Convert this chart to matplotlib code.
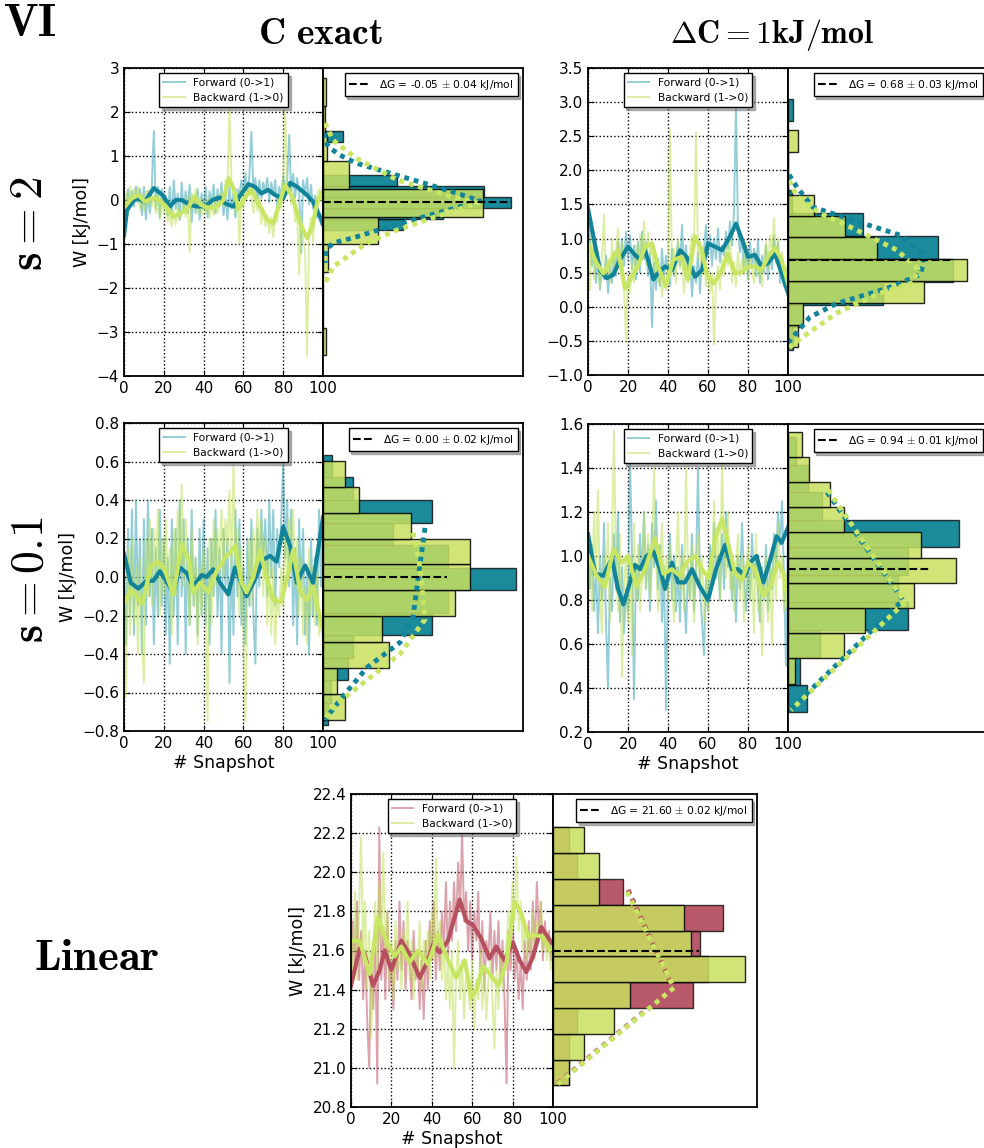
import numpy as np
import matplotlib
matplotlib.use('Agg')
import matplotlib.pyplot as plt

plt.rcParams['mathtext.fontset'] = 'cm'
plt.rcParams['font.family'] = 'DejaVu Sans'

snapshots = list(range(101))
xTicks = [0, 20, 40, 60, 80, 100]

#colours
tealRaw = '#2b9db0'
tealSmooth = '#12849a'
tealHist = '#1b8a9a'
redRaw = '#b8475a'
redSmooth = '#b5505e'
redHist = '#b85a6a'
greenRaw = '#bfe05a'
greenSmooth = '#c8e663'
greenHist = '#c8e060'

# ---------------- panel A : C exact, s = 2 ----------------
A_fwd_raw = [-0.95, -0.30, 0.25, -0.10, 0.20, -0.15, 0.30, -0.05, 0.25, -0.35,
             0.30, -0.45, 0.20, -0.30, 0.35, 1.57, -0.20, 0.30, -0.40, 0.25,
             -0.15, 0.10, -0.35, 0.30, -0.40, 0.45, -0.20, 0.15, -0.45, 0.40,
             -0.25, 0.20, -0.30, 0.35, -0.50, 0.10, -0.30, 0.25, -0.45, 0.15,
             -0.20, 0.30, -0.40, 0.20, -0.10, 0.35, -0.30, 0.25, -0.15, 0.40,
             -0.35, 0.10, -0.45, 0.30, -0.20, 0.15, -0.40, 0.25, 0.10, 0.45,
             0.20, 0.60, 0.15, 0.55, 1.55, 0.20, 0.50, -0.10, 0.45, 0.05,
             0.40, 0.15, 0.50, -0.05, 0.40, 0.10, 0.45, -0.20, 0.30, 0.05,
             0.55, 0.20, 0.45, 1.48, 0.15, 0.60, 0.05, 0.50, 0.20, -1.20,
             0.45, 0.10, 0.50, -0.10, 0.35, -0.20, 0.10, -0.40, -0.30, -0.55, -0.60]
A_bwd_raw = [-0.20, 0.15, -0.35, 0.30, -0.10, 0.25, 0.05, 0.30, -0.20, 0.15,
             -0.25, 0.20, -0.10, 0.25, -0.15, 0.10, -0.30, 0.20, -0.45, 0.05,
             -0.30, -0.10, -0.50, -0.20, -0.60, -0.25, -0.55, -0.15, -0.45, -0.30,
             -0.10, -0.40, 0.10, -1.18, 0.15, -0.20, 0.25, -0.30, 0.05, -0.35,
             -0.10, -0.30, 0.05, -0.40, -0.05, -0.35, 0.10, -0.30, -0.05, 0.20,
             -0.15, 0.45, 0.30, 2.10, 0.40, 0.20, -0.30, 0.15, -1.00, 0.25,
             -0.20, 0.35, 0.05, 0.40, 0.10, -0.30, 0.20, -0.25, 0.05, -0.55,
             -0.20, -0.60, -0.35, -0.75, -0.40, -0.85, -0.30, -0.50, 0.10, -0.20,
             0.45, 2.05, 0.20, 0.40, -0.10, 0.15, -0.50, -0.30, -1.70, -0.60,
             -0.90, -1.20, -3.55, -0.70, -0.40, -0.95, -0.20, 0.10, 0.25, 0.00, 0.30]
A_fwd_smooth_x = [0, 1.5, 5, 7, 10.5, 15, 19.5, 23, 26, 29, 33, 37, 41, 44.5, 48, 51, 55, 58, 62.5, 65.8,
                  69, 72.5, 76, 80, 83.5, 87, 92, 95, 98.5, 100]
A_fwd_smooth_y = [-0.8, -0.23, 0.0, 0.03, -0.04, 0.27, 0.11, -0.15, 0.0, 0.0, -0.11, -0.15, -0.14, 0.0, 0.06,
                  -0.08, -0.15, 0.08, 0.36, 0.30, 0.15, 0.23, 0.11, 0.04, 0.39, 0.30, 0.11, -0.04, -0.38, -0.55]
A_bwd_smooth_x = [0, 4, 7.3, 10.5, 14, 17, 21, 25, 28.5, 32, 35.5, 38.6, 42, 46, 50, 52.6, 55, 57.5, 61, 64,
                  67.6, 72, 75, 78.6, 81, 84.5, 88.6, 92, 94.6, 97, 100]
A_bwd_smooth_y = [-0.17, 0.04, 0.11, -0.04, 0.04, 0.02, -0.14, -0.38, -0.30, -0.19, 0.08, -0.11, -0.17, -0.17,
                  0.0, 0.49, 0.27, -0.20, 0.06, 0.23, -0.08, -0.45, -0.53, 0.0, 0.34, 0.08, -0.53, -0.87, -0.60,
                  -0.08, 0.23]
A_fwd_edges = [-0.68, -0.43, -0.18, 0.07, 0.32, 0.57, 0.82, 1.07, 1.32, 1.57]
A_fwd_dens = [0.80, 1.20, 1.88, 1.61, 0.74, 0, 0, 0, 0.20]
A_bwd_edges = [-3.53, -2.90, -2.27, -1.64, -1.01, -0.38, 0.25, 0.88, 1.51, 2.14, 2.77]
A_bwd_dens = [0.03, 0, 0, 0.05, 0.55, 1.60, 0.26, 0.04, 0.02, 0.03]
A_fwd_gauss_w = [1.52, 1.32, 1.18, 1.02, 0.84, 0.61, 0.39, 0.16, -0.02, -0.18, -0.39, -0.60, -0.84, -0.98, -1.14, -1.43]
A_fwd_gauss_d = [0.02, 0.02, 0.07, 0.17, 0.33, 0.67, 1.00, 1.33, 1.57, 1.33, 1.00, 0.67, 0.33, 0.10, 0.03, 0.02]
A_bwd_gauss_w = [1.75, 1.36, 0.95, 0.45, 0.10, -0.07, -0.40, -0.70, -1.00, -1.52, -1.89]
A_bwd_gauss_d = [0.02, 0.10, 0.33, 0.75, 1.25, 1.55, 1.10, 0.72, 0.42, 0.10, 0.02]
A_dG, A_dGerr, A_dGlen = -0.05, 0.04, 1.88

# ---------------- panel B : dC = 1 kJ/mol, s = 2 ----------------
B_fwd_raw = [1.50, 0.95, 0.60, 0.85, 0.35, 0.70, 0.25, 0.55, 0.40, 0.75,
             0.20, 0.60, 0.35, 0.80, 0.45, 0.95, 0.55, 1.00, 0.60, 1.10,
             0.70, 1.05, 0.55, 0.90, 0.40, 0.95, 0.50, 1.10, 0.70, 0.95,
             0.45, 0.80, -0.30, 0.65, 0.25, 0.70, 0.30, 0.85, 0.40, 0.75,
             0.55, 0.30, 0.85, 0.45, 0.70, 0.95, 0.60, 1.20, 0.55, 0.90,
             0.45, 0.75, 0.15, 0.60, 0.35, 0.80, 0.20, 0.70, 0.85, 1.20,
             0.75, 1.05, 0.60, 1.00, 0.70, 1.15, 0.65, 0.90, 0.75, 1.10,
             0.85, 1.25, 0.90, 1.40, 2.95, 1.10, 0.80, 1.00, 0.55, 0.85,
             0.40, 0.95, 0.60, 0.85, 0.45, 1.00, 0.35, 0.75, 0.50, 0.90,
             0.40, 0.80, 0.55, 1.05, 0.65, 0.95, 0.35, 0.70, 0.30, 0.55, 0.25]
B_bwd_raw = [0.95, 0.25, 1.20, 0.40, 0.90, 0.55, 0.30, 0.75, 1.35, 0.45,
             0.70, 0.35, 1.00, 0.50, 0.80, 1.15, 0.60, 0.95, 0.30, -0.50,
             0.45, 0.20, 0.65, 0.35, 0.90, 0.55, 1.05, 0.70, 1.25, 0.60,
             1.10, 0.75, 0.95, 0.50, 0.70, 0.35, 0.55, 0.15, 0.45, 0.25,
             0.60, 2.60, 0.50, 0.85, 0.35, 1.00, 0.55, 0.80, 0.20, 0.60,
             0.35, 0.85, 1.05, 0.90, 2.55, 0.70, 0.95, 0.45, 0.75, 0.30,
             0.55, 0.20, 0.50, -0.55, 0.35, 0.60, 0.25, 0.70, 0.45, 0.95,
             0.60, 1.00, 0.35, 0.65, 0.30, 0.80, 0.45, 0.70, 0.50, 0.95,
             0.40, 0.75, 0.55, 0.35, 0.80, 0.45, 0.60, 0.30, 0.70, 0.95,
             0.55, 1.05, 0.80, 1.30, 0.65, 1.00, 0.55, 0.80, 0.35, 0.60, 0.25]
B_fwd_smooth_x = [0, 2.7, 6, 9.3, 12.7, 16, 20, 23.5, 26, 28.5, 31, 32.7, 35, 38.5, 42, 46, 49.3, 53.5, 57, 60,
                  63.5, 67, 71, 74, 77.7, 80, 83.5, 86.8, 90, 93.5, 96.8, 100]
B_fwd_smooth_y = [1.44, 1.03, 0.54, 0.42, 0.47, 0.69, 0.88, 0.76, 0.69, 0.83, 0.59, 0.40, 0.49, 0.59, 0.54,
                  0.83, 0.73, 0.44, 0.54, 0.93, 0.88, 0.83, 1.03, 1.22, 0.93, 0.73, 0.76, 0.59, 0.64, 0.78,
                  0.49, 0.20]
B_bwd_smooth_x = [0, 4.3, 7.7, 11.8, 15, 18.5, 22, 25, 28.5, 32, 35, 39, 42.6, 47, 50, 53.5, 57, 59.3, 62.7, 67,
                  70, 73.5, 77, 80, 83.5, 86.8, 90, 93.5, 96.8, 100]
B_bwd_smooth_y = [0.93, 0.64, 0.49, 0.69, 0.83, 0.27, 0.44, 0.59, 0.88, 0.93, 0.59, 0.30, 0.69, 0.73, 0.40,
                  1.03, 0.83, 0.49, 0.34, 0.54, 0.78, 0.49, 0.51, 0.59, 0.59, 0.54, 0.73, 0.86, 0.69, 0.34]
B_fwd_edges = [-0.64, -0.30, 0.03, 0.37, 0.70, 1.04, 1.37, 1.71, 2.04, 2.38, 2.72, 3.05]
B_fwd_dens = [0.05, 0.14, 0.95, 1.65, 1.50, 0.75, 0.04, 0, 0, 0, 0.05]
B_bwd_edges = [-0.59, -0.27, 0.05, 0.38, 0.70, 1.02, 1.33, 1.64, 1.96, 2.27, 2.59]
B_bwd_dens = [0.10, 0.15, 1.36, 1.79, 0.89, 0.57, 0.26, 0, 0, 0.10]
B_fwd_gauss_w = [-0.53, -0.15, 0.05, 0.27, 0.47, 0.65, 0.79, 1.05, 1.27, 1.46, 1.75, 1.96]
B_fwd_gauss_d = [0.0, 0.22, 0.49, 0.99, 1.32, 1.36, 1.35, 1.12, 0.65, 0.25, 0.09, 0.0]
B_bwd_gauss_w = [-0.60, -0.44, -0.09, 0.20, 0.35, 0.55, 0.83, 1.15, 1.37, 1.61, 1.86]
B_bwd_gauss_d = [0.01, 0.15, 0.49, 0.92, 1.25, 1.30, 1.09, 0.65, 0.32, 0.09, 0.01]
B_dG, B_dGerr, B_dGlen = 0.68, 0.03, 1.65

# ---------------- panel C : C exact, s = 0.1 ----------------
C_fwd_raw = [0.10, -0.35, 0.25, -0.20, 0.35, -0.30, 0.40, -0.15, 0.20, -0.40,
             0.30, -0.25, 0.40, -0.10, 0.25, -0.35, 0.15, -0.20, 0.35, -0.15,
             0.20, -0.30, 0.10, -0.45, 0.30, -0.20, 0.25, -0.35, 0.40, -0.10,
             0.30, -0.40, 0.20, -0.25, 0.35, -0.15, 0.10, -0.30, 0.25, -0.20,
             0.30, -0.25, 0.15, -0.35, 0.20, -0.10, 0.35, -0.20, 0.15, -0.40,
             0.25, -0.05, 0.20, -0.55, 0.15, -0.30, 0.35, -0.10, 0.30, -0.25,
             0.05, -0.35, 0.20, -0.15, 0.30, -0.20, -0.45, 0.25, -0.05, 0.35,
             0.10, 0.30, -0.10, 0.40, 0.00, 0.35, -0.15, 0.25, 0.05, 0.30,
             0.60, 0.10, 0.40, -0.05, 0.35, -0.25, 0.15, -0.35, 0.30, -0.10,
             0.25, -0.30, 0.05, -0.40, 0.20, -0.20, 0.10, -0.25, 0.35, -0.05, 0.40]
C_bwd_raw = [-0.10, -0.62, 0.15, -0.30, 0.20, -0.25, 0.05, -0.40, 0.10, -0.30,
             -0.55, 0.20, -0.10, 0.30, -0.15, 0.25, 0.00, 0.35, -0.20, 0.20,
             -0.10, 0.30, -0.05, 0.15, -0.30, 0.25, -0.10, 0.35, 0.05, 0.48,
             -0.05, 0.30, 0.10, -0.25, 0.25, -0.15, 0.10, -0.35, 0.05, -0.20,
             0.15, -0.10, -0.75, 0.20, -0.25, 0.30, -0.05, 0.25, 0.05, 0.35,
             0.00, 0.30, 0.15, 0.45, 0.05, 0.58, 0.10, 0.25, -0.20, 0.15,
             -0.30, -0.75, -0.05, 0.20, -0.15, 0.25, 0.05, 0.35, 0.10, 0.30,
             -0.10, 0.20, -0.25, 0.10, -0.30, 0.05, -0.35, -0.10, -0.20, 0.05,
             -0.15, 0.25, 0.00, 0.30, 0.15, 0.35, -0.05, 0.20, -0.20, 0.10,
             -0.30, -0.05, -0.35, 0.15, -0.20, 0.05, -0.25, 0.10, -0.30, -0.20, -0.35]
C_fwd_smooth_x = [0, 3.4, 7.2, 11.4, 14.7, 18, 20.6, 24.8, 28, 31.5, 34.8, 39, 41.5, 44.9, 48.2, 52.4, 55.8,
                  61.6, 65, 70, 73.4, 76.7, 80, 83.5, 86.8, 91, 95, 100]
C_fwd_smooth_y = [0.12, -0.03, -0.06, -0.02, -0.02, 0.03, -0.01, -0.08, 0.05, 0.02, -0.05, 0.01, 0.0, 0.04,
                  -0.03, -0.09, 0.05, -0.10, -0.03, 0.09, 0.11, 0.08, 0.26, 0.16, -0.03, 0.06, -0.03, 0.31]
C_bwd_smooth_x = [0, 3.4, 6.7, 9.2, 13.4, 16.8, 20, 24.8, 29, 32.5, 34.8, 38.2, 42.4, 46.5, 51.5, 55.8, 59,
                  61.6, 65, 68.3, 71.6, 75, 79, 82.5, 85, 88.4, 91.8, 95, 100]
C_bwd_smooth_y = [-0.14, -0.07, -0.10, -0.14, 0.05, 0.08, 0.05, -0.09, 0.17, 0.09, -0.08, -0.03, -0.08, 0.03,
                  0.11, 0.16, -0.03, -0.08, 0.0, 0.14, 0.0, -0.12, -0.13, 0.02, 0.14, -0.07, -0.12, -0.05, -0.28]
C_fwd_edges = [-0.77, -0.653, -0.536, -0.419, -0.302, -0.185, -0.068, 0.049, 0.166, 0.283, 0.40, 0.517, 0.634]
C_fwd_dens = [0.05, 0.08, 0.25, 0.30, 1.09, 1.25, 1.93, 1.25, 0.70, 1.09, 0.30, 0.09]
C_bwd_edges = [-0.745, -0.61, -0.475, -0.34, -0.205, -0.07, 0.065, 0.20, 0.335, 0.47, 0.605]
C_bwd_dens = [0.22, 0.14, 0.66, 0.59, 1.32, 1.47, 1.47, 0.88, 0.36, 0.22]
C_fwd_gauss_w = [0.255, 0.14, -0.05, -0.21, -0.34, -0.47, -0.62, -0.74]
C_fwd_gauss_d = [1.02, 0.99, 0.94, 0.90, 0.77, 0.44, 0.20, 0.02]
C_bwd_gauss_w = [0.23, 0.05, -0.22, -0.40, -0.535, -0.675, -0.74]
C_bwd_gauss_d = [0.90, 0.97, 1.02, 0.77, 0.44, 0.10, 0.02]
C_dG, C_dGerr, C_dGlen = 0.00, 0.02, 1.24

# ---------------- panel D : dC = 1 kJ/mol, s = 0.1 ----------------
D_fwd_raw = [1.10, 0.85, 1.05, 0.75, 0.95, 0.65, 1.00, 0.80, 1.15, 0.70,
             0.40, 0.90, 0.75, 1.10, 0.85, 1.20, 0.70, 0.95, 0.65, 0.85,
             0.75, 1.45, 1.00, 0.35, 0.95, 0.80, 1.10, 0.90, 1.20, 0.85,
             1.05, 0.75, 1.15, 0.95, 1.25, 0.85, 1.05, 0.70, 0.95, 0.30,
             0.90, 1.10, 0.80, 1.00, 0.75, 0.95, 0.70, 1.05, 0.85, 0.65,
             0.95, 0.80, 1.10, 0.75, 0.95, 1.40, 0.85, 0.70, 0.55, 0.90,
             0.75, 1.05, 0.85, 1.15, 0.90, 1.00, 0.80, 1.10, 0.85, 1.20,
             0.95, 1.05, 0.80, 0.95, 0.70, 1.00, 0.85, 1.15, 0.90, 0.75,
             0.95, 0.80, 1.10, 0.90, 1.00, 0.85, 0.70, 0.95, 0.80, 1.05,
             0.75, 0.95, 0.85, 1.10, 0.95, 1.20, 1.05, 1.25, 0.90, 0.50, 1.15]
D_bwd_raw = [0.85, 1.05, 0.75, 1.20, 0.90, 1.30, 0.80, 0.65, 1.00, 0.90,
             1.15, 0.70, 1.05, 1.57, 0.95, 0.75, 1.10, 0.45, 0.85, 1.00,
             0.70, 0.95, 0.55, 1.15, 0.80, 1.05, 0.75, 0.90, 1.20, 0.85,
             1.10, 0.80, 0.95, 1.40, 1.00, 0.75, 0.90, 1.15, 0.85, 1.00,
             0.80, 1.05, 0.90, 0.70, 0.95, 1.20, 0.85, 1.00, 0.75, 1.40,
             0.90, 0.80, 1.05, 0.70, 0.95, 1.10, 0.85, 1.00, 0.70, 0.90,
             0.75, 1.00, 0.85, 1.25, 0.95, 1.10, 0.80, 1.45, 1.05, 0.90,
             1.20, 0.85, 1.00, 0.75, 0.95, 1.10, 0.80, 1.00, 0.70, 0.90,
             1.05, 0.80, 0.95, 0.65, 1.10, 0.75, 0.90, 0.55, 0.85, 1.00,
             0.70, 0.95, 0.60, 1.05, 0.80, 1.15, 0.90, 1.00, 0.75, 0.85, 0.80]
D_fwd_smooth_x = [0, 3.5, 7.7, 12, 15, 17.7, 20, 23.5, 26, 29.3, 32.7, 36, 38.5, 42, 45, 48.5, 52, 56, 60, 64,
                  68.5, 72, 75, 78.5, 81, 84.3, 87.7, 91, 94.3, 96.8, 100]
D_fwd_smooth_y = [1.10, 0.92, 0.91, 0.99, 0.85, 0.78, 0.85, 0.96, 0.94, 1.0, 1.02, 0.94, 0.85, 0.97, 0.88,
                  0.88, 0.94, 0.86, 0.80, 0.94, 1.05, 0.94, 0.94, 0.91, 0.97, 1.0, 0.88, 0.98, 1.09, 1.06, 1.13]
D_bwd_smooth_x = [0, 4.3, 8.5, 12.7, 17, 20, 24.3, 28.5, 33.5, 37.7, 42, 46, 49.3, 53.5, 57, 60.5, 63.5, 67, 70,
                  73.5, 77, 80, 83.5, 87.7, 91, 95, 98, 100]
D_bwd_smooth_y = [1.0, 0.91, 0.86, 1.03, 0.97, 1.0, 0.86, 0.94, 1.08, 0.92, 0.94, 0.91, 0.97, 1.0, 0.94, 0.90,
                  1.08, 1.17, 1.06, 0.92, 0.89, 0.97, 0.94, 0.82, 0.86, 0.97, 0.92, 0.78]
D_fwd_edges = [0.29, 0.415, 0.54, 0.665, 0.79, 0.915, 1.04, 1.165, 1.29, 1.415, 1.54]
D_fwd_dens = [0.19, 0.12, 0.32, 1.20, 1.10, 1.20, 1.71, 0.34, 0.20, 0.08]
D_bwd_edges = [0.42, 0.5345, 0.649, 0.7635, 0.878, 0.9925, 1.107, 1.2215, 1.336, 1.4505, 1.565]
D_bwd_dens = [0.07, 0.56, 0.77, 1.26, 1.68, 1.33, 0.56, 0.42, 0.21, 0.14]
D_fwd_gauss_w = [1.29, 0.80, 0.30]
D_fwd_gauss_d = [0.39, 1.15, 0.02]
D_bwd_gauss_w = [1.30, 0.79, 0.30]
D_bwd_gauss_d = [0.40, 1.17, 0.03]
D_dG, D_dGerr, D_dGlen = 0.94, 0.01, 1.41

# ---------------- panel E : Linear ----------------
E_fwd_raw = [21.40, 21.75, 21.50, 21.85, 21.45, 21.70, 21.35, 21.60, 21.25, 21.00,
             21.55, 21.30, 21.65, 20.92, 22.23, 21.45, 21.70, 21.35, 21.80, 21.40,
             21.55, 21.30, 21.65, 21.45, 21.85, 21.50, 21.75, 21.40, 21.65, 21.55,
             21.35, 21.70, 21.45, 21.60, 21.30, 21.55, 21.25, 21.65, 21.40, 21.75,
             21.55, 21.85, 21.45, 21.70, 21.50, 21.80, 21.60, 21.95, 21.55, 21.85,
             21.65, 21.95, 21.70, 22.05, 21.80, 22.20, 21.75, 21.90, 21.60, 21.85,
             21.55, 21.80, 21.65, 21.90, 21.50, 21.75, 21.40, 21.65, 21.55, 21.80,
             21.45, 21.70, 21.50, 21.75, 21.45, 21.65, 21.35, 20.92, 21.70, 21.50,
             21.75, 21.45, 21.60, 21.35, 21.55, 21.30, 21.65, 21.45, 21.75, 21.50,
             21.85, 21.60, 21.95, 21.70, 21.85, 21.55, 21.75, 21.60, 21.70, 21.55, 21.65]
E_bwd_raw = [21.75, 21.50, 21.90, 21.45, 21.80, 22.18, 21.55, 21.85, 21.40, 21.70,
             21.15, 21.60, 21.85, 21.50, 21.95, 21.65, 22.10, 21.55, 21.80, 21.45,
             21.65, 21.35, 21.75, 21.50, 21.60, 21.40, 21.70, 21.55, 21.85, 21.45,
             21.65, 21.35, 21.60, 21.50, 21.75, 21.40, 21.65, 21.55, 21.70, 21.45,
             21.80, 21.55, 22.07, 21.60, 21.75, 21.45, 21.65, 21.35, 21.55, 21.30,
             21.60, 21.00, 21.45, 21.65, 21.35, 21.55, 21.25, 21.50, 21.40, 21.30,
             21.55, 21.20, 21.45, 21.35, 21.60, 21.30, 21.50, 21.25, 21.45, 21.55,
             21.35, 21.10, 21.50, 21.30, 21.60, 21.40, 21.55, 21.65, 21.80, 21.70,
             21.95, 21.75, 22.08, 21.70, 21.85, 21.60, 21.75, 21.55, 21.70, 21.60,
             21.80, 21.55, 21.75, 21.65, 21.85, 21.60, 21.70, 21.55, 21.65, 21.50, 21.60]
E_fwd_smooth_x = [0, 4.3, 6.8, 10.9, 14.2, 16.7, 20, 24.9, 29, 34, 38.1, 40.6, 44, 48, 53.8, 57.1, 60.4, 64.5,
                  68.6, 71.9, 76, 80.2, 83.5, 86.8, 90.1, 94.2, 96.7, 100]
E_fwd_smooth_y = [21.42, 21.61, 21.58, 21.42, 21.50, 21.60, 21.50, 21.65, 21.58, 21.46, 21.55, 21.63, 21.59,
                  21.65, 21.86, 21.75, 21.73, 21.66, 21.56, 21.62, 21.55, 21.64, 21.55, 21.49, 21.57, 21.72,
                  21.68, 21.63]
E_bwd_smooth_x = [0, 4.3, 9.2, 13.4, 17.5, 21.6, 24.9, 29, 33.2, 38.1, 43, 48, 52, 56.3, 59.6, 62, 65.4, 69.5,
                  72.8, 76.9, 81, 84.3, 87.6, 90.9, 95, 98.3, 100]
E_bwd_smooth_y = [21.65, 21.65, 21.48, 21.77, 21.65, 21.57, 21.62, 21.54, 21.60, 21.53, 21.68, 21.55, 21.46,
                  21.55, 21.36, 21.40, 21.52, 21.47, 21.42, 21.53, 21.85, 21.79, 21.67, 21.68, 21.67, 21.60,
                  21.62]
E_edges = [20.91, 21.042, 21.174, 21.306, 21.438, 21.57, 21.702, 21.834, 21.966, 22.098, 22.23]
E_fwd_dens = [0.16, 0.16, 0.24, 1.40, 1.55, 1.47, 1.70, 0.70, 0.24, 0.16]
E_bwd_dens = [0.16, 0.31, 0.61, 0.77, 1.92, 1.38, 1.31, 0.46, 0.46, 0.31]
E_fwd_gauss_w = [21.91, 21.41, 20.91]
E_fwd_gauss_d = [0.75, 1.20, 0.02]
E_bwd_gauss_w = [21.90, 21.41, 20.91]
E_bwd_gauss_d = [0.74, 1.21, 0.03]
E_dG, E_dGerr, E_dGlen = 21.60, 0.02, 1.46

shadowProps = {'color': '0.45', 'alpha': 0.55}


def drawPanel(fig, tsRect, histRect, ylim, yticks, rawF, rawB, smF, smB, histF, histB,
              gaussF, gaussB, dG, dGerr, dGlen, histMax, fColors, ylabel, xlabel):
    ax = fig.add_axes(tsRect)
    ax.plot(snapshots, rawF, color=fColors[0], alpha=0.5, lw=1.4, label='Forward (0->1)')
    ax.plot(snapshots, rawB, color=greenRaw, alpha=0.55, lw=1.4, label='Backward (1->0)')
    ax.plot(smF[0], smF[1], color=fColors[1], lw=3)
    ax.plot(smB[0], smB[1], color=greenSmooth, lw=3)
    ax.set_xlim(0, 100)
    ax.set_ylim(ylim)
    ax.set_xticks(xTicks)
    ax.set_yticks(yticks)
    ax.grid(True, linestyle=':', color='k', lw=1)
    ax.tick_params(direction='in', top=True, right=True, labelsize=11, length=4)
    for s in ax.spines.values():
        s.set_linewidth(1.3)
    leg = ax.legend(loc='upper center', fontsize=7.7, shadow=shadowProps, fancybox=False,
                    handlelength=2.0, framealpha=1, edgecolor='k')
    leg.get_frame().set_linewidth(1)
    if ylabel:
        ax.set_ylabel('W [kJ/mol]', fontsize=12.5)
    if xlabel:
        ax.set_xlabel('# Snapshot', fontsize=12.5, labelpad=2)

    hx = fig.add_axes(histRect)
    eF, dF = histF
    eB, dB = histB
    hx.barh(eF[:-1], dF, height=np.diff(eF), align='edge', color=fColors[2],
            edgecolor=(0, 0, 0, 0.75), lw=1)
    hx.barh(eB[:-1], dB, height=np.diff(eB), align='edge', color=greenHist, alpha=0.85,
            edgecolor=(0, 0, 0, 0.75), lw=1)
    hx.plot(gaussF[1], gaussF[0], color=fColors[1], lw=3.5, linestyle=(0, (1, 1)))
    hx.plot(gaussB[1], gaussB[0], color=greenSmooth, lw=3.5, linestyle=(0, (1, 1)))
    txt = 'ΔG = %.2f $\\pm$ %.2f kJ/mol' % (dG, dGerr)
    hx.plot([0, dGlen], [dG, dG], 'k--', lw=1.5, label=txt)
    hx.set_ylim(ylim)
    hx.set_xlim(0, histMax)
    hx.set_xticks([])
    hx.set_yticks([])
    for s in hx.spines.values():
        s.set_linewidth(1.3)
    leg2 = hx.legend(loc='upper right', fontsize=7.7, shadow=shadowProps, fancybox=False,
                     handlelength=2.0, framealpha=1, edgecolor='k')
    leg2.get_frame().set_linewidth(1)
    return ax, hx


W, H = 984, 1148
fig = plt.figure(figsize=(W / 100, H / 100), dpi=100)


def rect(x0, y0, x1, y1):
    return [x0 / W, 1 - y1 / H, (x1 - x0) / W, (y1 - y0) / H]


teal = (tealRaw, tealSmooth, tealHist)
red = (redRaw, redSmooth, redHist)

drawPanel(fig, rect(124, 68, 323, 376), rect(323, 68, 523, 376), (-4, 3), [-4, -3, -2, -1, 0, 1, 2, 3],
          A_fwd_raw, A_bwd_raw, (A_fwd_smooth_x, A_fwd_smooth_y), (A_bwd_smooth_x, A_bwd_smooth_y),
          (A_fwd_edges, A_fwd_dens), (A_bwd_edges, A_bwd_dens),
          (A_fwd_gauss_w, A_fwd_gauss_d), (A_bwd_gauss_w, A_bwd_gauss_d),
          A_dG, A_dGerr, A_dGlen, 2.0, teal, True, False)

drawPanel(fig, rect(588, 68, 788, 375), rect(788, 68, 988, 375), (-1, 3.5),
          [-1.0, -0.5, 0.0, 0.5, 1.0, 1.5, 2.0, 2.5, 3.0, 3.5],
          B_fwd_raw, B_bwd_raw, (B_fwd_smooth_x, B_fwd_smooth_y), (B_bwd_smooth_x, B_bwd_smooth_y),
          (B_fwd_edges, B_fwd_dens), (B_bwd_edges, B_bwd_dens),
          (B_fwd_gauss_w, B_fwd_gauss_d), (B_bwd_gauss_w, B_bwd_gauss_d),
          B_dG, B_dGerr, B_dGlen, 2.0, teal, False, False)

drawPanel(fig, rect(124, 423, 323, 731), rect(323, 423, 523, 731), (-0.8, 0.8),
          [-0.8, -0.6, -0.4, -0.2, 0.0, 0.2, 0.4, 0.6, 0.8],
          C_fwd_raw, C_bwd_raw, (C_fwd_smooth_x, C_fwd_smooth_y), (C_bwd_smooth_x, C_bwd_smooth_y),
          (C_fwd_edges, C_fwd_dens), (C_bwd_edges, C_bwd_dens),
          (C_fwd_gauss_w, C_fwd_gauss_d), (C_bwd_gauss_w, C_bwd_gauss_d),
          C_dG, C_dGerr, C_dGlen, 2.0, teal, True, True)

drawPanel(fig, rect(588, 424, 788, 732), rect(788, 424, 988, 732), (0.2, 1.6),
          [0.2, 0.4, 0.6, 0.8, 1.0, 1.2, 1.4, 1.6],
          D_fwd_raw, D_bwd_raw, (D_fwd_smooth_x, D_fwd_smooth_y), (D_bwd_smooth_x, D_bwd_smooth_y),
          (D_fwd_edges, D_fwd_dens), (D_bwd_edges, D_bwd_dens),
          (D_fwd_gauss_w, D_fwd_gauss_d), (D_bwd_gauss_w, D_bwd_gauss_d),
          D_dG, D_dGerr, D_dGlen, 2.0, teal, False, True)

drawPanel(fig, rect(351, 794, 553, 1107), rect(553, 794, 757, 1107), (20.8, 22.4),
          [20.8, 21.0, 21.2, 21.4, 21.6, 21.8, 22.0, 22.2, 22.4],
          E_fwd_raw, E_bwd_raw, (E_fwd_smooth_x, E_fwd_smooth_y), (E_bwd_smooth_x, E_bwd_smooth_y),
          (E_edges, E_fwd_dens), (E_edges, E_bwd_dens),
          (E_fwd_gauss_w, E_fwd_gauss_d), (E_bwd_gauss_w, E_bwd_gauss_d),
          E_dG, E_dGerr, E_dGlen, 2.04, red, True, True)

fig.text(30 / W, 1 - 24 / H, r'$\mathbf{VI}$', fontsize=33, ha='center', va='center')
fig.text(320 / W, 1 - 34 / H, r'$\mathbf{C\ exact}$', fontsize=27, ha='center', va='center')
fig.text(772 / W, 1 - 35 / H, r'$\mathbf{\Delta C =1kJ/mol}$', fontsize=23, ha='center', va='center')
fig.text(30 / W, 1 - 223 / H, r'$\mathbf{s = 2}$', fontsize=34, rotation=90, ha='center', va='center')
fig.text(30 / W, 1 - 580 / H, r'$\mathbf{s = 0.1}$', fontsize=33, rotation=90, ha='center', va='center')
fig.text(97 / W, 1 - 957 / H, r'$\mathbf{Linear}$', fontsize=32, ha='center', va='center')

fig.savefig('out.png', dpi=100)
